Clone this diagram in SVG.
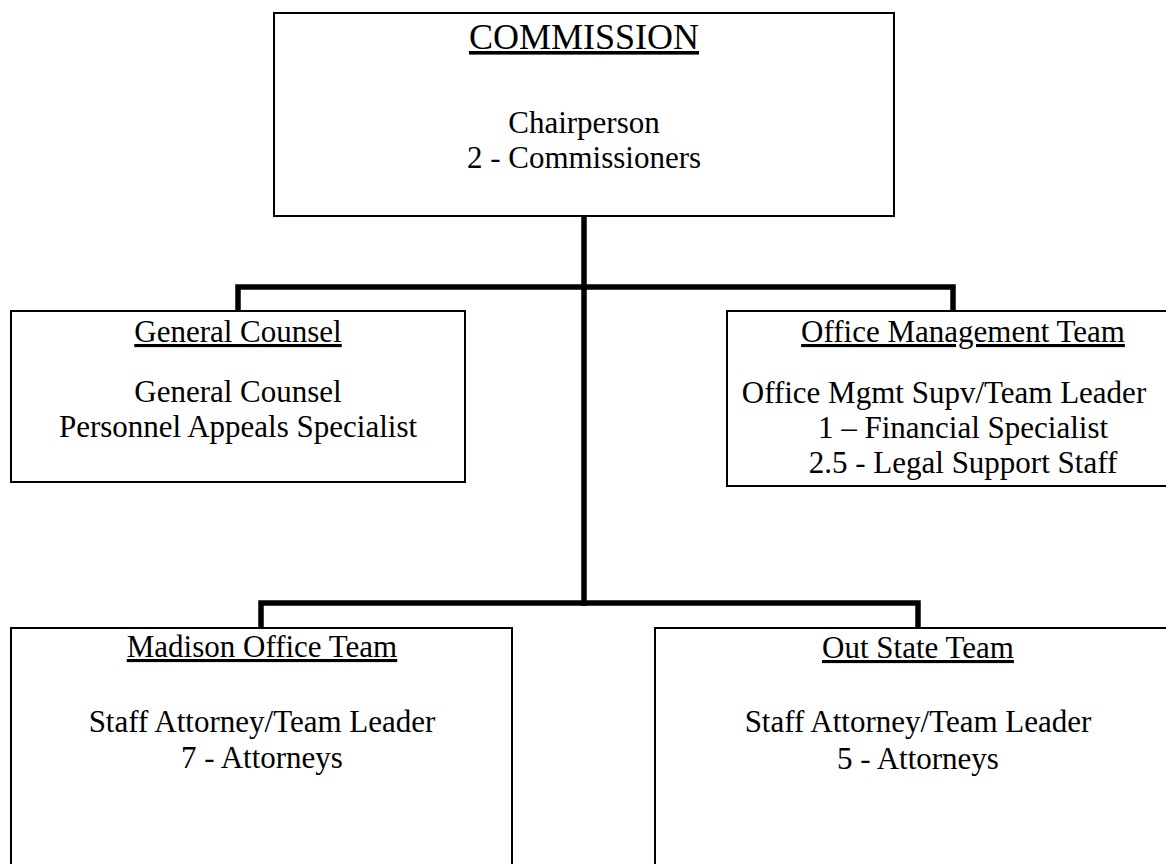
<svg xmlns="http://www.w3.org/2000/svg" width="1166" height="864" viewBox="0 0 1166 864">
<style>
.box{fill:#fff;stroke:#000;stroke-width:2}
.t{font-family:"Liberation Serif","Times New Roman",serif;font-size:31px;fill:#000;text-anchor:middle}
.h{text-decoration:underline}
.big{font-size:36px}
.conn{fill:none;stroke:#000;stroke-width:5.5;stroke-linecap:square;stroke-linejoin:miter}
</style>
<rect width="1166" height="864" fill="#fff"/>
<g id="connectors">
<path class="conn" d="M584,216 V603"/>
<path class="conn" d="M238,311 V287 H953 V311"/>
<path class="conn" d="M261,628 V603 H918 V628"/>
</g>
<g id="commission">
<rect class="box" x="274" y="13" width="620" height="203"/>
<text class="t h big" x="584" y="49">COMMISSION</text>
<text class="t" x="584" y="133">Chairperson</text>
<text class="t" x="584" y="168">2 - Commissioners</text>
</g>
<g id="general-counsel">
<rect class="box" x="11" y="311" width="454" height="171"/>
<text class="t h" x="238" y="342">General Counsel</text>
<text class="t" x="238" y="402">General Counsel</text>
<text class="t" x="238" y="437">Personnel Appeals Specialist</text>
</g>
<g id="office-management">
<rect class="box" x="727" y="311" width="472" height="175"/>
<text class="t h" x="963" y="342">Office Management Team</text>
<text class="t" x="944" y="403">Office Mgmt Supv/Team Leader</text>
<text class="t" x="963" y="438">1 – Financial Specialist</text>
<text class="t" x="963" y="473">2.5 - Legal Support Staff</text>
</g>
<g id="madison">
<rect class="box" x="11" y="628" width="501" height="260"/>
<text class="t h" x="262" y="657">Madison Office Team</text>
<text class="t" x="262" y="732">Staff Attorney/Team Leader</text>
<text class="t" x="262" y="768">7 - Attorneys</text>
</g>
<g id="out-state">
<rect class="box" x="655" y="628" width="526" height="260"/>
<text class="t h" x="918" y="658">Out State Team</text>
<text class="t" x="918" y="732">Staff Attorney/Team Leader</text>
<text class="t" x="918" y="769">5 - Attorneys</text>
</g>
</svg>
